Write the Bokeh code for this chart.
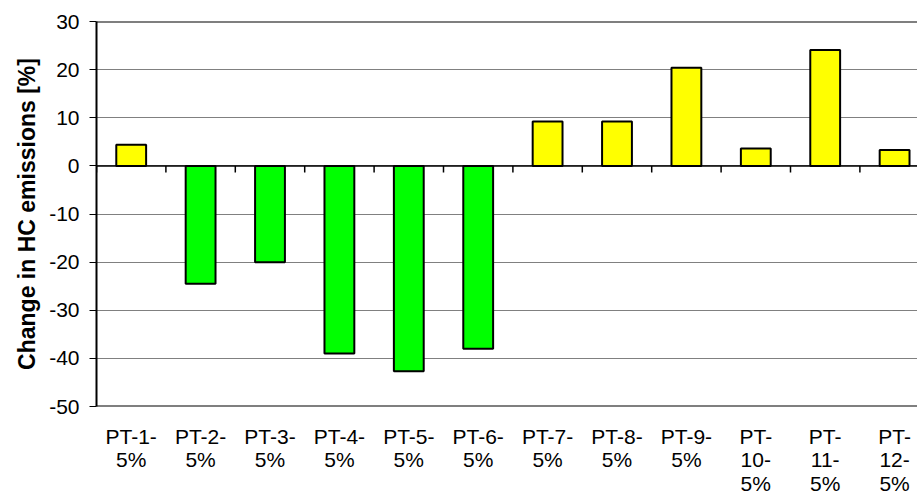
from bokeh.plotting import figure
from bokeh.models import FixedTicker, Span, Range1d, ColumnDataSource
from bokeh.embed import file_html
from bokeh.resources import INLINE

categories = ["PT-1-\n5%", "PT-2-\n5%", "PT-3-\n5%", "PT-4-\n5%", "PT-5-\n5%", "PT-6-\n5%",
              "PT-7-\n5%", "PT-8-\n5%", "PT-9-\n5%", "PT-\n10-\n5%", "PT-\n11-\n5%", "PT-\n12-\n5%"]
values = [4.4, -24.5, -20.0, -39.0, -42.7, -38.0, 9.2, 9.2, 20.4, 3.6, 24.1, 3.3]
y_ticks = [-50, -40, -30, -20, -10, 0, 10, 20, 30]
y_tick_labels = ["-50", "-40", "-30", "-20", "-10", "0", "10", "20", "30"]

xs = [i + 0.5 for i in range(len(categories))]
colors = ["#FFFF00" if v >= 0 else "#00FF00" for v in values]
src = ColumnDataSource(dict(x=xs, top=values, color=colors))

p = figure(width=917, height=502, output_backend="svg", toolbar_location=None,
           x_range=Range1d(0, 11.83), y_range=Range1d(-50, 30),
           min_border_left=96, min_border_right=0, min_border_top=21, min_border_bottom=96)
p.outline_line_color = None
p.background_fill_color = "white"
p.border_fill_color = "white"

p.xgrid.grid_line_color = None
p.ygrid.grid_line_color = "#808080"
p.ygrid.grid_line_width = 1
p.ygrid.ticker = FixedTicker(ticks=y_ticks)

p.vbar(x="x", top="top", bottom=0, width=0.43, fill_color="color",
       line_color="black", line_width=2, source=src)

# zero line and category separator ticks
p.add_layout(Span(location=0, dimension="width", line_color="black", line_width=1.5))
p.add_layout(Span(location=30, dimension="width", line_color="black", line_width=2))
p.add_layout(Span(location=-50, dimension="width", line_color="black", line_width=2))
bounds = list(range(len(categories) + 1))
p.segment(x0=bounds, x1=bounds, y0=[0] * len(bounds), y1=[-1.4] * len(bounds),
          line_color="black", line_width=1.5)

# y axis
p.yaxis.ticker = FixedTicker(ticks=y_ticks)
p.yaxis.major_label_overrides = {t: s for t, s in zip(y_ticks, y_tick_labels)}
p.yaxis.axis_line_color = "black"
p.yaxis.axis_line_width = 2
p.yaxis.major_tick_out = 7
p.yaxis.major_tick_in = 0
p.yaxis.minor_tick_line_color = None
p.yaxis.major_label_text_font = "Liberation Sans"
p.yaxis.major_label_text_font_size = "21px"
p.yaxis.major_label_text_color = "black"
p.yaxis.major_label_standoff = 10
p.yaxis.axis_label = "Change in HC emissions [%]"
p.yaxis.axis_label_text_font = "Liberation Sans"
p.yaxis.axis_label_text_font_style = "bold"
p.yaxis.axis_label_text_font_size = "23px"
p.yaxis.axis_label_text_color = "black"
p.yaxis.axis_label_standoff = 6

# x axis (labels only)
p.xaxis.ticker = FixedTicker(ticks=xs)
p.xaxis.major_label_overrides = {x: c for x, c in zip(xs, categories)}
p.xaxis.axis_line_color = None
p.xaxis.major_tick_line_color = None
p.xaxis.minor_tick_line_color = None
p.xaxis.major_tick_out = 0
p.xaxis.major_tick_in = 0
p.xaxis.major_label_text_font = "Liberation Sans"
p.xaxis.major_label_text_font_size = "21px"
p.xaxis.major_label_text_color = "black"
p.xaxis.major_label_standoff = 18
p.xaxis.major_label_text_line_height = 1.03

open("out.html", "w").write(file_html(p, INLINE))
